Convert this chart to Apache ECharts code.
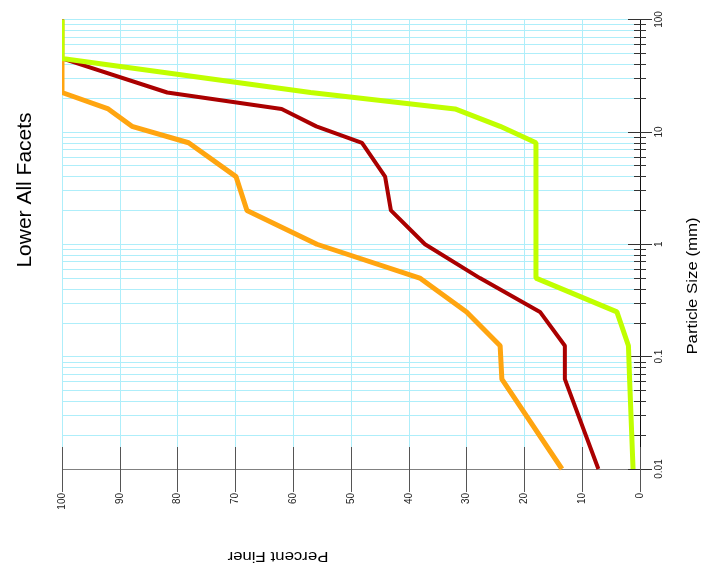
<!DOCTYPE html>
<html><head><meta charset="utf-8">
<script src="https://cdn.jsdelivr.net/npm/echarts@6/dist/echarts.min.js"></script>
<style>html,body{margin:0;padding:0;background:#fff}#c{width:708px;height:572px}</style>
</head><body><div id="c"></div>
<script>
const chartTitle = 'Lower All Facets';
const xName = 'Percent Finer';
const yName = 'Particle Size (mm)';
// particle sizes (mm) shared by all three curves
const sizes = [100, 45, 22.4, 16, 11.2, 8, 4, 2, 1, 0.5, 0.25, 0.125, 0.063, 0.01];
// percent finer for each curve
const orangePct = [100, 100, 100, 92, 87.9, 78.1, 69.9, 68, 55.9, 38.1, 30, 24.2, 23.9, 13.5];
const redPct    = [100, 100, 81.8, 62, 56, 48.1, 44.1, 43.1, 37.2, 27.7, 17.3, 13, 13, 7.2];
const greenPct  = [100, 100, 57, 32, 24.2, 18, 18, 18, 18, 18, 4, 2, 1.8, 1.2];

const FONT = '"Liberation Sans", Arial, sans-serif';
const GRID = '#aeeefa';
const pairs = pct => sizes.map((s, i) => [pct[i], s]);

const chart = echarts.init(document.getElementById('c'), null, {renderer: 'canvas'});
const baseX = {type: 'value', min: 0, max: 100, interval: 10, inverse: true, position: 'bottom'};
const baseY = {type: 'log', logBase: 10, min: 0.01, max: 100, position: 'right'};
chart.setOption({
  animation: false,
  backgroundColor: '#fff',
  grid: {left: 62, right: 68, top: 19.5, bottom: 103, containLabel: false},
  xAxis: [
    Object.assign({}, baseX, {
      axisLine: {show: true, lineStyle: {color: '#808080', width: 1}},
      axisTick: {show: true, inside: false, length: 23, lineStyle: {color: '#555', width: 1}},
      axisLabel: {rotate: 90, fontSize: 10, margin: 24, color: '#222', fontFamily: FONT},
      splitLine: {show: true, lineStyle: {color: GRID, width: 1}}
    }),
    Object.assign({}, baseX, {
      axisLine: {show: false},
      axisTick: {show: true, inside: true, length: 22, lineStyle: {color: '#555', width: 1}},
      axisLabel: {show: false},
      splitLine: {show: false}
    })
  ],
  yAxis: [
    Object.assign({}, baseY, {
      axisLine: {show: true, lineStyle: {color: '#111', width: 1}},
      axisTick: {show: true, inside: true, length: 12, lineStyle: {color: '#333', width: 1}},
      minorTick: {show: true, splitNumber: 9, length: 6, lineStyle: {color: '#333', width: 1}},
      axisLabel: {rotate: 90, fontSize: 10, margin: 14, color: '#222', fontFamily: FONT},
      splitLine: {show: true, lineStyle: {color: GRID, width: 1}},
      minorSplitLine: {show: true, lineStyle: {color: GRID, width: 1}}
    }),
    Object.assign({}, baseY, {
      axisLine: {show: false},
      axisTick: {show: true, inside: false, length: 12, lineStyle: {color: '#333', width: 1}},
      minorTick: {show: true, splitNumber: 9, length: 6, lineStyle: {color: '#333', width: 1}},
      axisLabel: {show: false},
      splitLine: {show: false},
      minorSplitLine: {show: false}
    })
  ],
  series: [
    {type: 'line', name: 'orange', data: pairs(orangePct), symbol: 'none', smooth: false,
     lineStyle: {color: '#ffa510', width: 5}, itemStyle: {color: '#ffa510'}, clip: true},
    {type: 'line', name: 'red', data: pairs(redPct), symbol: 'none', smooth: false,
     lineStyle: {color: '#aa0000', width: 4}, itemStyle: {color: '#aa0000'}, clip: true},
    {type: 'line', name: 'green', data: pairs(greenPct), symbol: 'none', smooth: false,
     lineStyle: {color: '#c0ff00', width: 5}, itemStyle: {color: '#c0ff00'}, clip: true}
  ],
  graphic: [
    // white margin strip left of the plot: hides the half of the line stroke lying outside the plot edge
    {type: 'rect', z: 50, silent: true, shape: {x: 40, y: 0, width: 22, height: 470},
     style: {fill: '#fff'}},
    {type: 'text', x: 25, y: 190, rotation: Math.PI / 2,
     style: {text: chartTitle, font: '21px ' + FONT, fill: '#000', align: 'center', verticalAlign: 'middle'}},
    {type: 'text', x: 693, y: 286, rotation: Math.PI / 2, scaleX: 1.2,
     style: {text: yName, font: '14px ' + FONT, fill: '#000', align: 'center', verticalAlign: 'middle'}},
    {type: 'text', x: 278, y: 556, rotation: Math.PI, scaleX: 1.2,
     style: {text: xName, font: '14px ' + FONT, fill: '#000', align: 'center', verticalAlign: 'middle'}}
  ]
});
</script></body></html>
